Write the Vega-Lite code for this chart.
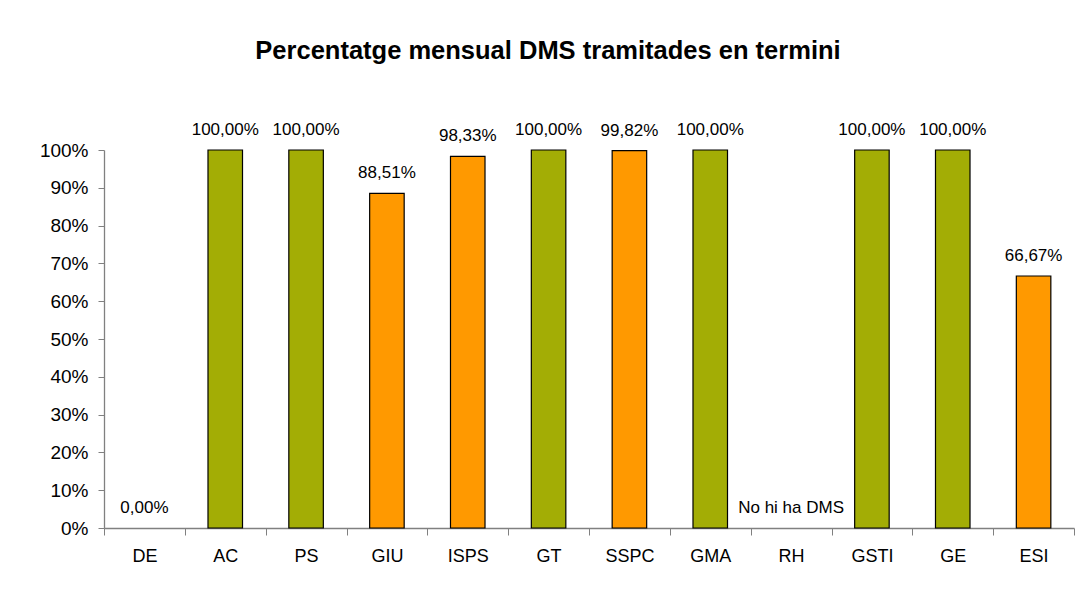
{
  "$schema": "https://vega.github.io/schema/vega-lite/v6.json",
  "width": 970,
  "height": 378,
  "autosize": {"type": "none"},
  "padding": {"left": 104, "top": 150, "right": 3, "bottom": 63},
  "background": "white",
  "title": {
    "text": "Percentatge mensual DMS tramitades en termini",
    "font": "Liberation Sans",
    "fontSize": 25.5,
    "fontWeight": "bold",
    "color": "black",
    "anchor": "middle",
    "dx": -41,
    "offset": 57
  },
  "data": {
    "values": [
      {"unitat": "DE", "valor": 0, "etiqueta": "0,00%", "estat": "No compleix"},
      {"unitat": "AC", "valor": 1, "etiqueta": "100,00%", "estat": "Compleix"},
      {"unitat": "PS", "valor": 1, "etiqueta": "100,00%", "estat": "Compleix"},
      {"unitat": "GIU", "valor": 0.8851, "etiqueta": "88,51%", "estat": "No compleix"},
      {"unitat": "ISPS", "valor": 0.9833, "etiqueta": "98,33%", "estat": "No compleix"},
      {"unitat": "GT", "valor": 1, "etiqueta": "100,00%", "estat": "Compleix"},
      {"unitat": "SSPC", "valor": 0.9982, "etiqueta": "99,82%", "estat": "No compleix"},
      {"unitat": "GMA", "valor": 1, "etiqueta": "100,00%", "estat": "Compleix"},
      {"unitat": "RH", "valor": 0, "etiqueta": "No hi ha DMS", "estat": "Sense dades"},
      {"unitat": "GSTI", "valor": 1, "etiqueta": "100,00%", "estat": "Compleix"},
      {"unitat": "GE", "valor": 1, "etiqueta": "100,00%", "estat": "Compleix"},
      {"unitat": "ESI", "valor": 0.6667, "etiqueta": "66,67%", "estat": "No compleix"}
    ]
  },
  "encoding": {
    "x": {
      "field": "unitat",
      "type": "nominal",
      "sort": ["DE", "AC", "PS", "GIU", "ISPS", "GT", "SSPC", "GMA", "RH", "GSTI", "GE", "ESI"],
      "scale": {"domain": ["DE", "AC", "PS", "GIU", "ISPS", "GT", "SSPC", "GMA", "RH", "GSTI", "GE", "ESI"], "paddingInner": 0, "paddingOuter": 0},
      "axis": {
        "title": null,
        "labelAngle": 0,
        "labelFont": "Liberation Sans",
        "labelFontSize": 18,
        "labelColor": "black",
        "labelPadding": 12,
        "tickBand": "extent",
        "tickSize": 7,
        "tickColor": "#808080",
        "domainColor": "#808080",
        "domainWidth": 1.3,
        "grid": false
      }
    },
    "y": {
      "field": "valor",
      "type": "quantitative",
      "scale": {"domain": [0, 1], "nice": false},
      "axis": {
        "title": null,
        "format": ".0%",
        "values": [0, 0.1, 0.2, 0.3, 0.4, 0.5, 0.6, 0.7, 0.8, 0.9, 1],
        "labelFont": "Liberation Sans",
        "labelFontSize": 19,
        "labelColor": "black",
        "labelPadding": 10,
        "tickSize": 6,
        "tickColor": "#808080",
        "domainColor": "#808080",
        "domainWidth": 1.3,
        "grid": false
      }
    }
  },
  "layer": [
    {
      "transform": [{"filter": "datum.valor > 0"}],
      "mark": {"type": "bar", "width": {"band": 0.427}, "stroke": "black", "strokeWidth": 1.2},
      "encoding": {
        "color": {
          "field": "estat",
          "type": "nominal",
          "scale": {"domain": ["Compleix", "No compleix", "Sense dades"], "range": ["#A3AD05", "#FF9900", "#FFFFFF"]},
          "legend": null
        }
      }
    },
    {
      "mark": {"type": "text", "font": "Liberation Sans", "fontSize": 17, "color": "black", "baseline": "bottom", "dy": -11},
      "encoding": {
        "text": {"field": "etiqueta"}
      }
    }
  ],
  "config": {
    "view": {"stroke": null}
  }
}
